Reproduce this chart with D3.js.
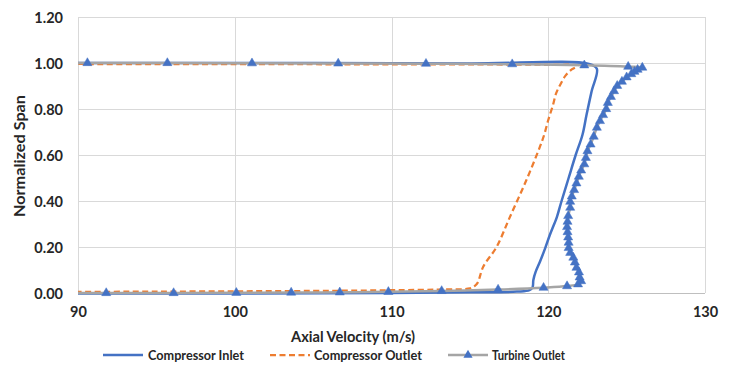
<!DOCTYPE html>
<html>
<head>
<meta charset="utf-8">
<script src="https://cdn.jsdelivr.net/npm/d3@7"></script>
<style>
  html, body { margin: 0; padding: 0; background: #fff; }
  svg { display: block; }
  text { font-family: Lato, "Open Sans", sans-serif; font-weight: 700; fill: #262626; }
</style>
</head>
<body>
<svg id="chart" width="735" height="365"></svg>
<script>
// ---- data ----
const seriesNames = ["Compressor Inlet", "Compressor Outlet", "Turbine Outlet"];

const inletVelocity = [85, 100, 110, 115, 118, 118.8, 119.0, 119.05, 119.2, 119.47, 119.8, 120.1, 120.4, 120.55, 120.85, 121.3, 121.75, 122.18, 122.44, 122.76, 123.1, 122.6, 115, 100, 85];
const inletSpan     = [-0.002, -0.002, 0.0, 0.003, 0.006, 0.012, 0.025, 0.057, 0.093, 0.136, 0.194, 0.252, 0.303, 0.33, 0.40, 0.50, 0.60, 0.687, 0.774, 0.875, 0.975, 0.996, 0.998, 1.0, 1.0];

const outletVelocity = [85, 95, 105, 110, 113, 115, 115.3, 115.5, 115.85, 116.7, 117.55, 118.6, 119.47, 119.75, 120.0, 120.3, 120.5, 120.8, 121.1, 121.5, 121.9, 120, 110, 100, 85];
const outletSpan     = [0.004, 0.006, 0.009, 0.012, 0.015, 0.02, 0.03, 0.045, 0.114, 0.2, 0.33, 0.49, 0.636, 0.69, 0.752, 0.817, 0.868, 0.91, 0.945, 0.972, 0.988, 0.992, 0.994, 0.995, 0.996];

const turbineVelocity = [87, 91.8, 96.1, 100.1, 103.6, 106.7, 109.8, 113.2, 116.8, 119.7, 121.2, 121.9, 122.1, 122.0, 121.96, 121.8, 121.7, 121.6, 121.4, 121.3, 121.3, 121.27, 121.23, 121.2, 121.23, 121.27, 121.4, 121.4, 121.5, 121.65, 121.8, 121.95, 122.1, 122.3, 122.4, 122.5, 122.7, 122.9, 123.1, 123.3, 123.5, 123.7, 123.8, 124.0, 124.2, 124.4, 124.7, 125.0, 125.3, 125.5, 125.7, 126.0, 125.1, 122.3, 117.7, 112.2, 106.6, 101.1, 95.7, 90.6, 87];
const turbineSpan     = [0.0, 0.0, 0.0, 0.001, 0.002, 0.003, 0.005, 0.009, 0.015, 0.023, 0.03, 0.038, 0.052, 0.068, 0.09, 0.11, 0.133, 0.154, 0.175, 0.196, 0.219, 0.242, 0.265, 0.287, 0.31, 0.335, 0.371, 0.397, 0.42, 0.448, 0.477, 0.506, 0.533, 0.56, 0.588, 0.617, 0.646, 0.68, 0.719, 0.748, 0.774, 0.8, 0.827, 0.853, 0.878, 0.901, 0.919, 0.938, 0.952, 0.962, 0.971, 0.98, 0.984, 0.99, 0.995, 0.997, 0.998, 0.999, 1.0, 1.0, 1.0];

const xTicks = [90, 100, 110, 120, 130];
const yTicks = [0, 0.2, 0.4, 0.6, 0.8, 1.0, 1.2];

// ---- layout ----
const svg = d3.select("#chart");
const M = { left: 78, right: 705, top: 17, bottom: 293 };
const x = d3.scaleLinear().domain([90, 130]).range([M.left, M.right]);
const y = d3.scaleLinear().domain([0, 1.2]).range([M.bottom, M.top]);

const defs = svg.append("defs");
defs.append("clipPath").attr("id", "plotclip")
  .append("rect").attr("x", M.left).attr("y", M.top - 5)
  .attr("width", M.right - M.left + 6).attr("height", M.bottom - M.top + 12);
defs.append("clipPath").attr("id", "lineclip")
  .append("rect").attr("x", M.left).attr("y", M.top - 5)
  .attr("width", M.right - M.left).attr("height", M.bottom - M.top + 12);

// gridlines
const grid = svg.append("g");
grid.selectAll("line.v").data(xTicks).join("line")
  .attr("x1", d => Math.round(x(d)) + 0.5).attr("x2", d => Math.round(x(d)) + 0.5)
  .attr("y1", M.top).attr("y2", M.bottom)
  .attr("stroke", "#d9d9d9").attr("stroke-width", 1);
grid.selectAll("line.h").data(yTicks).join("line")
  .attr("x1", M.left).attr("x2", M.right)
  .attr("y1", d => Math.round(y(d)) + 0.5).attr("y2", d => Math.round(y(d)) + 0.5)
  .attr("stroke", d => d === 0 ? "#bfbfbf" : "#d9d9d9").attr("stroke-width", 1);

// axes (labels via d3 axis)
const yAxis = svg.append("g").attr("transform", `translate(${M.left},0)`)
  .call(d3.axisLeft(y).tickValues(yTicks).tickFormat(d3.format(".2f")).tickSize(0).tickPadding(15));
yAxis.select(".domain").remove();
yAxis.selectAll("text").attr("font-size", 14.5).attr("dy", "0.36em")
  .style("font-family", "Lato, sans-serif").style("font-weight", 700).attr("fill", "#262626");

const xAxis = svg.append("g").attr("transform", `translate(0,${M.bottom})`)
  .call(d3.axisBottom(x).tickValues(xTicks).tickFormat(d3.format("d")).tickSize(0).tickPadding(14));
xAxis.select(".domain").remove();
xAxis.selectAll("text").attr("font-size", 14.5)
  .style("font-family", "Lato, sans-serif").style("font-weight", 700).attr("fill", "#262626");

// axis titles
svg.append("text").attr("x", 353).attr("y", 342).attr("text-anchor", "middle")
  .attr("font-size", 14.5).attr("textLength", 124).attr("lengthAdjust", "spacingAndGlyphs")
  .text("Axial Velocity (m/s)");
svg.append("text").attr("transform", "translate(25,156) rotate(-90)")
  .attr("text-anchor", "middle").attr("font-size", 15)
  .attr("textLength", 122).attr("lengthAdjust", "spacingAndGlyphs").text("Normalized Span");

// lines
const line = d3.line().x(d => x(d[0])).y(d => y(d[1])).curve(d3.curveCatmullRom.alpha(0.5));
const inlet = d3.zip(inletVelocity, inletSpan);
const outlet = d3.zip(outletVelocity, outletSpan);
const turbine = d3.zip(turbineVelocity, turbineSpan);

const plot = svg.append("g").attr("clip-path", "url(#lineclip)");
plot.append("path").datum(inlet).attr("d", line)
  .attr("fill", "none").attr("stroke", "#4472c4").attr("stroke-width", 2.5).attr("stroke-linejoin", "round");
plot.append("path").datum(outlet).attr("d", line)
  .attr("fill", "none").attr("stroke", "#ed7d31").attr("stroke-width", 2.25).attr("stroke-dasharray", "6,3.5");
plot.append("path").datum(turbine).attr("d", line)
  .attr("fill", "none").attr("stroke", "#a5a5a5").attr("stroke-width", 2.5).attr("stroke-linejoin", "round");

const tri = d3.symbol().type(d3.symbolTriangle).size(36);
svg.append("g").attr("clip-path", "url(#plotclip)")
  .selectAll("path").data(turbine.filter(d => d[0] >= 90)).join("path")
  .attr("transform", d => `translate(${x(d[0])},${y(d[1])})`)
  .attr("d", tri).attr("fill", "#4472c4").attr("stroke", "#4472c4").attr("stroke-width", 0.5);

// legend
const legendItems = [
  { name: seriesNames[0], x0: 103, tx: 148, tw: 96, color: "#4472c4", dash: null, w: 2.5, marker: false },
  { name: seriesNames[1], x0: 270, tx: 314, tw: 108, color: "#ed7d31", dash: "6,3.5", w: 2.25, marker: false },
  { name: seriesNames[2], x0: 448, tx: 492, tw: 73, color: "#a5a5a5", dash: null, w: 2.5, marker: true }
];
const lg = svg.append("g");
legendItems.forEach(it => {
  const g = lg.append("g");
  g.append("line").attr("x1", it.x0).attr("x2", it.x0 + 40).attr("y1", 355).attr("y2", 355)
    .attr("stroke", it.color).attr("stroke-width", it.w).attr("stroke-dasharray", it.dash);
  if (it.marker) {
    g.append("path").attr("transform", `translate(${it.x0 + 20},355)`).attr("d", tri)
      .attr("fill", "#4472c4");
  }
  g.append("text").attr("x", it.tx).attr("y", 360).attr("font-size", 14)
    .attr("textLength", it.tw).attr("lengthAdjust", "spacingAndGlyphs").text(it.name);
});
</script>
</body>
</html>
